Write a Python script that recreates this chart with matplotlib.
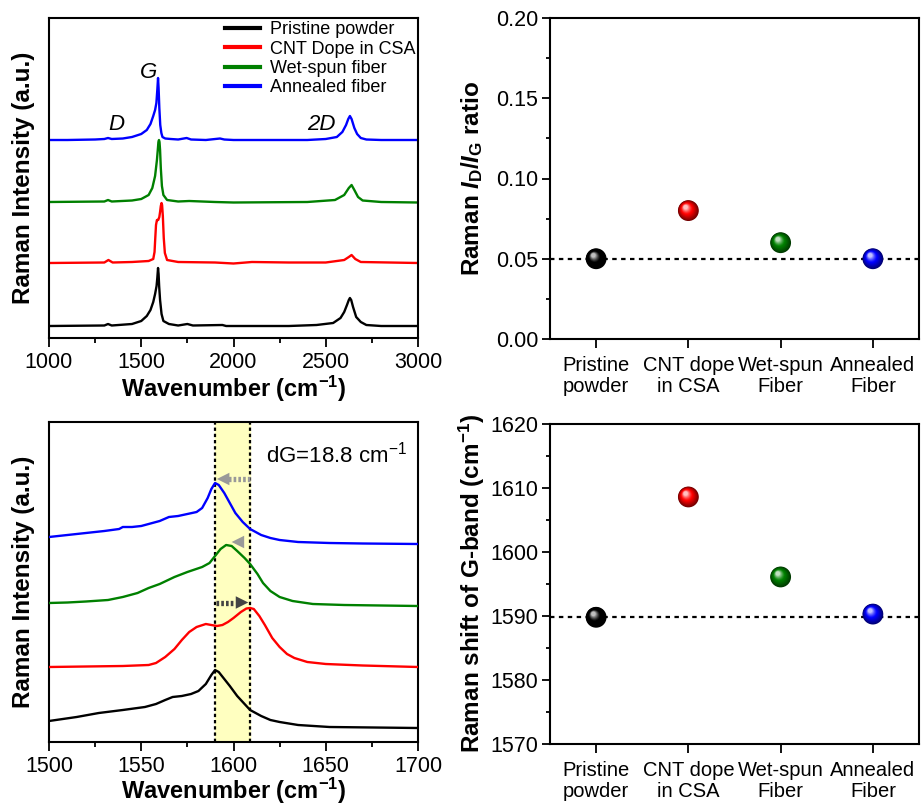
import numpy as np
import matplotlib
matplotlib.use("Agg")
import matplotlib.pyplot as plt
from matplotlib.transforms import offset_copy
from matplotlib.colors import to_rgb

plt.rcParams['font.family'] = ['Liberation Sans', 'DejaVu Sans']
plt.rcParams['mathtext.fontset'] = 'custom'
plt.rcParams['mathtext.rm'] = 'Liberation Sans'
plt.rcParams['mathtext.bf'] = 'Liberation Sans:bold'
plt.rcParams['mathtext.it'] = 'Liberation Sans:bold:italic'
plt.rcParams['axes.linewidth'] = 1.5

# ---------------- data ----------------
series_names = ["Pristine powder", "CNT Dope in CSA", "Wet-spun fiber", "Annealed fiber"]
series_colors = ["#000000", "#FF0000", "#008000", "#0000FF"]

# Full-range spectra (wavenumber, offset intensity a.u.)
wn_full_pristine = [1000, 1300, 1320, 1340, 1450, 1500, 1530, 1550, 1565, 1575, 1583, 1587, 1591, 1594, 1597,
                    1602, 1610, 1620, 1650, 1700, 1750, 1780, 1940, 1960, 2300, 2450, 2540, 2580, 2600, 2615,
                    2625, 2631, 2638, 2648, 2665, 2690, 2720, 2800, 3000]
int_full_pristine = [12, 12.5, 14, 12.5, 14, 17, 22, 28, 36, 44, 52, 60, 70, 64, 52,
                     38, 24, 17, 14, 12.5, 14, 12.5, 13, 12, 12, 13, 15, 20, 26, 33,
                     38, 40, 38, 31, 21, 16, 13, 12, 12]
wn_full_dope = [1000, 1300, 1322, 1345, 1450, 1540, 1565, 1572, 1576, 1580, 1585, 1592, 1598, 1602, 1606,
                1610, 1613, 1617, 1622, 1628, 1640, 1700, 1900, 2000, 2100, 2300, 2500, 2600, 2625, 2640,
                2660, 2690, 3000]
int_full_dope = [75, 75.5, 78, 75.5, 76, 77, 79, 86, 100, 113, 118, 118, 121, 126, 132,
                 135, 133, 122, 100, 85, 78, 76, 75.5, 74.5, 76, 75.5, 75.5, 78, 81, 83,
                 79, 76, 75]
wn_full_wet = [1000, 1300, 1320, 1340, 1450, 1500, 1540, 1560, 1575, 1585, 1590, 1593, 1596, 1599, 1602,
               1606, 1612, 1620, 1640, 1700, 1760, 1900, 2000, 2400, 2550, 2600, 2625, 2640, 2655, 2675,
               2700, 2800, 3000]
int_full_wet = [136, 136.5, 138, 136.5, 137.5, 139, 143, 150, 162, 178, 189, 196, 198, 196, 188,
                170, 152, 143, 138, 136.5, 137, 136, 135.5, 136, 138, 143, 150, 153, 148, 141,
                137.5, 136, 135.5]
wn_full_annealed = [1000, 1100, 1250, 1300, 1320, 1340, 1400, 1450, 1500, 1530, 1550, 1565, 1575, 1582, 1587,
                    1591, 1594, 1598, 1603, 1609, 1615, 1630, 1660, 1700, 1746, 1770, 1850, 1927, 1950, 2000,
                    2400, 2500, 2560, 2590, 2610, 2622, 2631, 2640, 2655, 2670, 2690, 2720, 2800, 3000]
int_full_annealed = [198, 198, 198.5, 199, 200, 199, 199.5, 201, 204, 208, 214, 222, 228, 235, 248,
                     260, 250, 230, 213, 205, 201, 199.5, 199, 198.5, 200, 198.5, 198, 199.5, 198.5, 198,
                     198, 199, 201, 206, 213, 219, 222, 219, 210, 204, 200, 198.5, 198, 198]

# Zoomed G-band spectra
wn_g_pristine = [1500, 1515, 1527, 1540, 1552, 1558, 1563, 1567, 1572, 1577, 1581, 1585, 1588, 1590, 1592,
                 1595, 1598, 1602, 1606, 1609, 1615, 1620, 1625, 1635, 1652, 1700]
int_g_pristine = [21, 25, 29, 32, 35, 38, 42, 45, 46, 48, 51, 58, 67, 72, 70,
                  63, 56, 46, 38, 32, 26, 22, 20, 17, 15, 14]
wn_g_dope = [1500, 1520, 1540, 1554, 1558, 1563, 1568, 1572, 1576, 1580, 1585, 1588, 1591, 1594, 1597,
             1600, 1604, 1607, 1609, 1611, 1614, 1617, 1621, 1625, 1629, 1633, 1640, 1650, 1670, 1700]
int_g_dope = [75, 75.5, 76, 77, 79, 85, 93, 102, 110, 115, 118, 117, 116, 117, 120,
              124, 130, 133.5, 134, 133, 126, 117, 104, 95, 88, 84, 80, 78, 76.5, 75]
wn_g_wet = [1500, 1510, 1520, 1532, 1540, 1548, 1554, 1560, 1568, 1575, 1583, 1587, 1590, 1593, 1596,
            1599, 1602, 1606, 1609, 1613, 1616, 1620, 1625, 1632, 1643, 1660, 1700]
int_g_wet = [139, 139.5, 140.5, 142, 145, 149, 154, 158, 165, 170, 175, 179, 186, 193, 197,
             196, 191, 184, 178, 168, 159, 151, 145, 141, 138, 137, 136]
wn_g_annealed = [1500, 1510, 1520, 1530, 1538, 1540, 1545, 1550, 1554, 1560, 1565, 1570, 1575, 1580, 1583,
                 1586, 1588, 1590, 1592, 1595, 1598, 1601, 1605, 1609, 1615, 1620, 1625, 1635, 1652, 1670, 1700]
int_g_annealed = [205, 207, 209, 211, 213, 215, 215, 216, 218, 221, 225, 226, 228, 230, 234,
                  244, 253, 259, 257, 249, 239, 229, 220, 213, 207, 204, 202, 200, 199, 198.5, 198]

g_ref_pos = 1590.0
g_dope_pos = 1608.8

categories = ["Pristine\npowder", "CNT dope\nin CSA", "Wet-spun\nFiber", "Annealed\nFiber"]
id_ig_ratio = [0.050, 0.080, 0.060, 0.050]
g_band_shift = [1589.8, 1608.6, 1596.1, 1590.3]
id_ig_ref = 0.05
g_shift_ref = 1589.8

# ---------------- figure ----------------
W, H = 924, 807
fig = plt.figure(figsize=(W / 100, H / 100), dpi=100)

def add_ax(l, r, t, b):
    return fig.add_axes([l / W, 1 - b / H, (r - l) / W, (b - t) / H])

ax_tl = add_ax(49, 418, 18, 338)
ax_tr = add_ax(550, 919, 18, 339)
ax_bl = add_ax(49, 418, 422, 742)
ax_br = add_ax(550, 919, 424, 744)

TICK_FS = 15.5
CAT_FS = 14.5
LAB_FS = 17.5
XLAB_FS = 17

# --- top-left: full spectra ---
full = [(wn_full_pristine, int_full_pristine), (wn_full_dope, int_full_dope),
        (wn_full_wet, int_full_wet), (wn_full_annealed, int_full_annealed)]
for (x, y), c, name in zip(full, series_colors, series_names):
    ax_tl.plot(x, y, color=c, lw=1.7, label=name, solid_joinstyle='round')
ax_tl.set_xlim(1000, 3000)
ax_tl.set_ylim(0, 320)
ax_tl.set_yticks([])
ax_tl.set_xticks([1000, 1500, 2000, 2500, 3000])
ax_tl.set_xticks([1250, 1750, 2250, 2750], minor=True)
leg = ax_tl.legend(loc='upper left', bbox_to_anchor=(0.478, 0.99), frameon=False, fontsize=13,
                   handlelength=1.9, handletextpad=0.55, labelspacing=0.13, borderpad=0, borderaxespad=0)
for h in leg.get_lines():
    h.set_linewidth(3)
ax_tl.text(1542, 265, "G", fontsize=16, style='italic', ha='center', va='center')
ax_tl.text(1363, 214, "D", fontsize=16, style='italic', ha='center', va='center')
ax_tl.text(2474, 214, "2D", fontsize=16, style='italic', ha='center', va='center')

# --- bottom-left: G band zoom ---
ax_bl.axvspan(g_ref_pos, g_dope_pos, color='#FFFFC0', zorder=0)
for xv in (g_ref_pos, g_dope_pos):
    ax_bl.axvline(xv, color='black', lw=1.6, ls=(0, (1.5, 1.3)), zorder=1)
gz = [(wn_g_pristine, int_g_pristine), (wn_g_dope, int_g_dope),
      (wn_g_wet, int_g_wet), (wn_g_annealed, int_g_annealed)]
for (x, y), c in zip(gz, series_colors):
    ax_bl.plot(x, y, color=c, lw=1.7, zorder=3)
ax_bl.set_xlim(1500, 1700)
ax_bl.set_ylim(0, 320)
ax_bl.set_yticks([])
ax_bl.set_xticks([1500, 1550, 1600, 1650, 1700])
ax_bl.set_xticks([1525, 1575, 1625, 1675], minor=True)
ax_bl.text(1617.5, 287, "dG=18.8 cm$^{-1}$", fontsize=16, ha='left', va='center')

def head(ax, tip, base, y, color):
    ax.annotate('', xy=(tip, y), xytext=(base, y),
                arrowprops=dict(arrowstyle='-|>,head_length=9,head_width=4.5', mutation_scale=1,
                                color=color, lw=0, shrinkA=0, shrinkB=0), zorder=4)

# top arrow (annealed): dotted shaft + head pointing left
ax_bl.plot([1609, 1596], [263, 263], color='#999999', lw=3.8, ls=(0, (0.5, 0.4)), zorder=4)
head(ax_bl, 1591, 1599, 263, '#999999')
# middle (wet-spun): head only
head(ax_bl, 1599, 1608, 200, '#999999')
# bottom (dope): dotted shaft + head pointing right
ax_bl.plot([1590.3, 1601], [139.5, 139.5], color='#444444', lw=3.8, ls=(0, (0.5, 0.4)), zorder=4)
head(ax_bl, 1608, 1600, 139.5, '#444444')

for ax, ycoord in ((ax_tl, -0.16), (ax_bl, -0.152)):
    ax.tick_params(axis='x', which='major', direction='out', length=6.5, width=1.3, pad=3.5, labelsize=TICK_FS)
    ax.tick_params(axis='x', which='minor', direction='out', length=3.5, width=1.3)
    ax.set_xlabel(r"Wavenumber (cm$^{\mathbf{-1}}$)", fontsize=XLAB_FS, fontweight='bold', va='center')
    ax.xaxis.set_label_coords(0.5, ycoord)
    ax.set_ylabel("Raman Intensity (a.u.)", fontsize=LAB_FS, fontweight='bold', va='center')
    ax.yaxis.set_label_coords(-0.068, 0.5)

# --- spheres ---
def sphere(ax, x, y, color, d=15):
    base = np.array(to_rgb(color))
    white = np.array([1.0, 1.0, 1.0])
    dark = base * 0.45
    ax.scatter([x], [y], s=d ** 2, color=dark, edgecolors='none', zorder=5, clip_on=False)
    n = 14
    for k in range(1, n):
        f = k / n
        r = (d / 2) * (1 - 0.85 * f)
        off = (d / 2 - r) * 0.55
        tr = offset_copy(ax.transData, fig=fig, x=-off * 0.6, y=off * 0.75, units='points')
        if f < 0.5:
            col = dark + (base - dark) * (f / 0.5)
        else:
            col = base + (white - base) * ((f - 0.5) / 0.5) ** 1.3 * 0.92
        ax.scatter([x], [y], s=(2 * r) ** 2, color=col, edgecolors='none', zorder=5 + k * 0.01,
                   transform=tr, clip_on=False)

for ax, vals, ref, ylim, major, minor, fmt in [
        (ax_tr, id_ig_ratio, id_ig_ref, (0, 0.2), np.arange(0, 0.2001, 0.05), np.arange(0.025, 0.2, 0.05), "{:.2f}"),
        (ax_br, g_band_shift, g_shift_ref, (1570, 1620), np.arange(1570, 1621, 10), np.arange(1575, 1620, 10), "{:.0f}")]:
    ax.axhline(ref, color='black', lw=1.6, ls=(0, (2, 2)), zorder=2)
    for i, (v, c) in enumerate(zip(vals, series_colors)):
        sphere(ax, i, v, c)
    ax.set_xlim(-0.5, 3.5)
    ax.set_ylim(*ylim)
    ax.set_xticks(range(len(categories)))
    ax.set_xticklabels(categories, linespacing=1.12, fontsize=CAT_FS)
    ax.set_yticks(major)
    ax.set_yticklabels([fmt.format(t) for t in major])
    ax.set_yticks(minor, minor=True)
    ax.tick_params(axis='x', which='major', direction='out', length=6.5, width=1.3, pad=6)
    ax.tick_params(axis='y', which='major', direction='out', length=6, width=1.3, pad=2.5, labelsize=TICK_FS)
    ax.tick_params(axis='y', which='minor', direction='out', length=3, width=1.3)

ax_tr.set_ylabel(r"Raman $\mathit{I}_{\mathbf{D}}\mathbf{/}\mathit{I}_{\mathbf{G}}$ ratio",
                 fontsize=LAB_FS, fontweight='bold', va='center')
ax_tr.yaxis.set_label_coords(-0.212, 0.5)
ax_br.set_ylabel(r"Raman shift of G-band (cm$^{\mathbf{-1}}$)", fontsize=LAB_FS, fontweight='bold', va='center')
ax_br.yaxis.set_label_coords(-0.212, 0.5)

fig.savefig("out.png", dpi=100)
